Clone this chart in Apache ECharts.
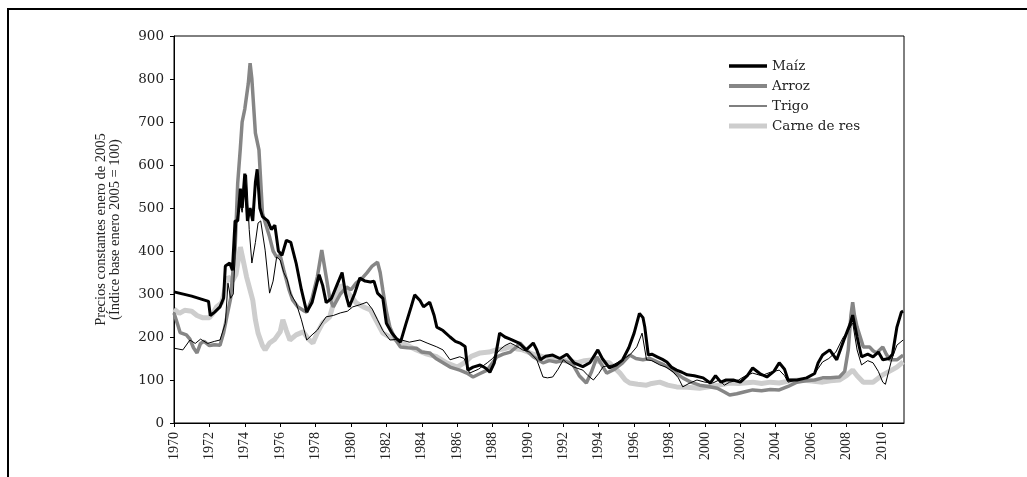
<!DOCTYPE html>
<html>
<head>
<meta charset="utf-8">
<script src="https://cdn.jsdelivr.net/npm/echarts@6/dist/echarts.min.js"></script>
<style>
  html, body { margin: 0; padding: 0; background: #fff; }
  #frame { position: absolute; left: 7px; top: 8px; right: -4px; bottom: -4px; border-top: 2px solid #000; border-left: 2px solid #000; }
  #chart { position: absolute; left: 0; top: 0; width: 1027px; height: 477px; }
</style>
</head>
<body>
<div id="frame"></div>
<div id="chart"></div>
<script>
// series names (legend order)
const seriesNames = ['Maíz', 'Arroz', 'Trigo', 'Carne de res'];

// [year, index] pairs
const maiz = [[1970.0,305],[1971.0,295],[1971.95,283],[1972.05,250],[1972.3,258],[1972.6,270],[1972.8,290],[1972.9,365],[1973.15,372],[1973.3,355],[1973.45,470],[1973.6,470],[1973.75,545],[1973.85,500],[1974.0,580],[1974.15,470],[1974.3,500],[1974.45,470],[1974.6,560],[1974.7,590],[1974.85,500],[1975.0,480],[1975.3,470],[1975.5,450],[1975.7,460],[1975.9,400],[1976.1,390],[1976.35,425],[1976.6,420],[1976.9,372],[1977.2,310],[1977.5,258],[1977.8,280],[1978.2,345],[1978.4,320],[1978.6,280],[1978.9,290],[1979.2,320],[1979.5,350],[1979.7,300],[1979.9,270],[1980.2,300],[1980.5,337],[1980.8,330],[1981.1,328],[1981.3,330],[1981.5,302],[1981.8,290],[1982.0,232],[1982.3,210],[1982.6,195],[1982.8,188],[1983.1,230],[1983.4,270],[1983.6,298],[1983.9,285],[1984.1,270],[1984.45,281],[1984.7,250],[1984.85,223],[1985.2,215],[1985.6,200],[1985.9,190],[1986.2,185],[1986.45,178],[1986.6,123],[1986.9,130],[1987.3,135],[1987.6,128],[1987.85,118],[1988.1,140],[1988.4,209],[1988.7,200],[1989.0,195],[1989.5,186],[1989.9,170],[1990.3,186],[1990.5,170],[1990.7,147],[1991.0,155],[1991.4,158],[1991.8,150],[1992.2,160],[1992.6,140],[1993.1,131],[1993.5,140],[1993.95,170],[1994.2,150],[1994.6,128],[1995.0,135],[1995.35,147],[1995.7,175],[1996.0,209],[1996.3,255],[1996.5,245],[1996.6,224],[1996.8,158],[1997.0,160],[1997.3,154],[1997.6,148],[1997.85,142],[1998.1,130],[1998.4,123],[1998.7,118],[1999.0,112],[1999.4,110],[1999.9,105],[2000.3,93],[2000.6,110],[2000.9,95],[2001.2,100],[2001.6,100],[2002.0,95],[2002.4,110],[2002.7,128],[2003.1,115],[2003.5,107],[2003.9,120],[2004.2,140],[2004.5,125],[2004.7,100],[2005.2,100],[2005.75,105],[2006.2,115],[2006.4,140],[2006.65,158],[2007.05,170],[2007.45,147],[2007.9,198],[2008.2,230],[2008.35,251],[2008.6,200],[2008.85,154],[2009.2,160],[2009.5,154],[2009.8,165],[2010.05,147],[2010.4,150],[2010.6,160],[2010.85,223],[2011.1,258],[2011.2,260]];

const arroz = [[1970.0,256],[1970.2,230],[1970.35,210],[1970.7,205],[1970.9,195],[1971.1,175],[1971.3,163],[1971.5,185],[1971.7,190],[1972.0,180],[1972.3,182],[1972.6,181],[1972.8,209],[1973.0,250],[1973.2,290],[1973.3,340],[1973.45,402],[1973.6,558],[1973.75,640],[1973.85,700],[1974.0,730],[1974.2,790],[1974.3,837],[1974.4,800],[1974.6,674],[1974.8,635],[1975.0,488],[1975.2,460],[1975.4,433],[1975.6,400],[1975.8,386],[1976.0,390],[1976.2,356],[1976.5,310],[1976.7,286],[1977.0,270],[1977.3,262],[1977.5,258],[1977.8,290],[1978.1,340],[1978.35,402],[1978.6,340],[1978.8,290],[1979.0,270],[1979.4,300],[1979.75,316],[1980.0,310],[1980.3,326],[1980.6,335],[1980.9,349],[1981.2,365],[1981.5,374],[1981.65,350],[1981.8,309],[1982.0,260],[1982.2,223],[1982.5,195],[1982.8,177],[1983.2,175],[1983.7,174],[1984.0,165],[1984.45,163],[1984.8,150],[1985.2,140],[1985.6,130],[1986.15,123],[1986.55,116],[1986.9,107],[1987.3,115],[1987.7,123],[1988.0,140],[1988.25,154],[1988.6,160],[1989.0,165],[1989.3,175],[1989.55,186],[1989.9,170],[1990.3,154],[1990.85,140],[1991.2,145],[1991.6,142],[1992.0,145],[1992.35,140],[1992.55,135],[1992.9,110],[1993.3,93],[1993.6,120],[1993.9,154],[1994.1,140],[1994.45,116],[1994.9,125],[1995.35,140],[1995.75,158],[1996.1,150],[1996.5,147],[1996.9,150],[1997.3,142],[1997.7,135],[1998.0,128],[1998.4,115],[1998.75,105],[1999.2,95],[1999.7,88],[2000.2,85],[2000.7,81],[2001.1,72],[2001.4,65],[2001.8,68],[2002.2,72],[2002.7,77],[2003.2,75],[2003.7,78],[2004.2,77],[2004.7,85],[2005.2,95],[2005.7,98],[2006.2,100],[2006.65,105],[2007.1,105],[2007.6,107],[2007.9,120],[2008.1,170],[2008.25,250],[2008.35,281],[2008.45,250],[2008.6,223],[2008.95,177],[2009.3,177],[2009.5,168],[2009.7,163],[2010.05,177],[2010.25,160],[2010.45,147],[2010.85,147],[2011.2,158]];

const trigo = [[1970.0,174],[1970.5,170],[1970.9,193],[1971.2,185],[1971.5,195],[1971.9,185],[1972.3,190],[1972.6,193],[1972.9,232],[1973.05,325],[1973.2,290],[1973.35,300],[1973.55,472],[1973.7,519],[1973.85,490],[1974.1,577],[1974.25,450],[1974.4,372],[1974.6,420],[1974.75,465],[1974.9,470],[1975.15,402],[1975.4,302],[1975.6,330],[1975.8,386],[1976.0,379],[1976.2,350],[1976.4,333],[1976.6,300],[1976.9,279],[1977.2,240],[1977.5,193],[1977.8,205],[1978.1,216],[1978.4,235],[1978.6,247],[1979.0,250],[1979.4,256],[1979.8,260],[1980.1,270],[1980.5,275],[1980.9,281],[1981.2,265],[1981.5,240],[1981.8,215],[1982.2,193],[1982.7,195],[1983.3,188],[1983.9,193],[1984.3,186],[1984.85,177],[1985.2,170],[1985.6,147],[1986.15,154],[1986.4,150],[1986.7,116],[1987.2,125],[1987.7,140],[1988.0,150],[1988.4,170],[1988.7,180],[1989.0,186],[1989.3,180],[1989.7,170],[1990.1,165],[1990.5,147],[1990.85,107],[1991.1,105],[1991.4,107],[1991.7,125],[1992.0,147],[1992.2,140],[1992.6,130],[1993.1,123],[1993.4,110],[1993.7,100],[1994.0,115],[1994.25,131],[1994.8,135],[1995.35,147],[1995.8,160],[1996.15,177],[1996.45,209],[1996.7,147],[1997.0,145],[1997.45,135],[1997.8,130],[1998.2,119],[1998.5,105],[1998.75,84],[1999.1,92],[1999.55,100],[2000.0,95],[2000.45,93],[2000.8,100],[2001.1,88],[2001.4,95],[2001.9,100],[2002.3,110],[2002.7,116],[2003.2,110],[2003.7,118],[2004.2,123],[2004.5,110],[2004.7,95],[2005.2,100],[2005.75,105],[2006.2,115],[2006.65,142],[2007.0,150],[2007.4,165],[2007.8,198],[2008.1,215],[2008.35,233],[2008.6,170],[2008.85,135],[2009.2,145],[2009.5,140],[2009.8,120],[2010.05,95],[2010.2,90],[2010.55,147],[2010.85,181],[2011.2,193]];

const carne = [[1970.0,265],[1970.3,255],[1970.6,262],[1971.0,260],[1971.3,250],[1971.6,245],[1972.0,245],[1972.2,255],[1972.4,270],[1972.7,280],[1973.05,340],[1973.3,330],[1973.5,345],[1973.75,409],[1973.9,380],[1974.1,340],[1974.45,286],[1974.6,240],[1974.75,209],[1975.0,180],[1975.15,170],[1975.4,186],[1975.7,195],[1976.0,212],[1976.15,240],[1976.35,215],[1976.55,193],[1976.9,205],[1977.3,212],[1977.6,195],[1977.85,186],[1978.1,210],[1978.4,233],[1978.8,247],[1979.1,290],[1979.4,320],[1979.7,309],[1980.0,295],[1980.3,279],[1980.7,270],[1981.1,263],[1981.4,240],[1981.8,209],[1982.2,200],[1982.6,193],[1983.2,180],[1983.7,170],[1984.3,160],[1984.85,154],[1985.4,140],[1986.0,130],[1986.4,140],[1986.8,155],[1987.3,163],[1987.8,165],[1988.2,170],[1988.6,172],[1989.0,177],[1989.4,172],[1989.7,170],[1990.3,160],[1990.85,154],[1991.4,150],[1992.0,147],[1992.75,140],[1993.2,145],[1993.7,147],[1994.1,142],[1994.6,140],[1995.2,116],[1995.5,100],[1995.75,93],[1996.2,90],[1996.7,88],[1997.0,92],[1997.45,95],[1997.9,88],[1998.4,84],[1999.0,83],[1999.7,81],[2000.3,85],[2000.8,88],[2001.4,93],[2001.9,92],[2002.7,95],[2003.2,92],[2003.7,95],[2004.2,93],[2004.8,98],[2005.35,100],[2005.9,98],[2006.65,95],[2007.1,98],[2007.6,100],[2008.0,110],[2008.35,123],[2008.6,110],[2008.95,95],[2009.5,95],[2010.05,112],[2010.55,123],[2010.85,130],[2011.2,142]];

const chart = echarts.init(document.getElementById('chart'));

const lineSeries = (name, data, color, width) => ({
    name: name,
    type: 'line',
    data: data,
    symbol: 'none',
    smooth: false,
    lineStyle: { color: color, width: width },
    itemStyle: { color: color },
    z: 2
});

// flat bar legend icon, thickness h over a 38 px long stroke
const barIcon = h => 'path://M0,0L38,0L38,' + h + 'L0,' + h + 'Z';

const options = {
    animation: false,
    grid: {
        left: 174, right: 123, top: 36, bottom: 54,
        show: true, borderColor: '#000', borderWidth: 1
    },
    legend: {
        data: [
            { name: 'Maíz', icon: barIcon(3.5) },
            { name: 'Arroz', icon: barIcon(4) },
            { name: 'Trigo', icon: barIcon(1.2) },
            { name: 'Carne de res', icon: barIcon(5) }
        ],
        orient: 'vertical',
        left: 724, top: 54,
        itemWidth: 38, itemHeight: 14, itemGap: 6,
        textStyle: { fontFamily: 'DejaVu Serif', fontSize: 13.5, color: '#222' }
    },
    xAxis: {
        type: 'value',
        min: 1970, max: 2011.25, interval: 2,
        axisLine: { lineStyle: { color: '#000', width: 1 } },
        axisTick: { length: 4, lineStyle: { color: '#000' } },
        splitLine: { show: false },
        axisLabel: {
            rotate: 90, margin: 9, color: '#222',
            fontFamily: 'Liberation Serif', fontSize: 14,
            showMaxLabel: false,
            formatter: v => (v % 2 === 0 ? String(v) : '')
        }
    },
    yAxis: {
        type: 'value',
        min: 0, max: 900, interval: 100,
        name: 'Precios constantes enero de 2005\n(Índice base enero 2005 = 100)',
        nameLocation: 'middle', nameGap: 52,
        nameTextStyle: { fontFamily: 'Liberation Serif', fontSize: 14.5, lineHeight: 14, color: '#222' },
        axisLine: { show: true, lineStyle: { color: '#000', width: 1 } },
        axisTick: { show: true, length: 4, lineStyle: { color: '#000' } },
        splitLine: { show: false },
        axisLabel: { margin: 10, color: '#222', fontFamily: 'DejaVu Serif', fontSize: 13.5 }
    },
    series: [
        lineSeries('Carne de res', carne, '#cdcdcd', 5),
        lineSeries('Arroz', arroz, '#868686', 3.5),
        lineSeries('Trigo', trigo, '#000', 1),
        lineSeries('Maíz', maiz, '#000', 3)
    ]
};

chart.setOption(options);
</script>
</body>
</html>
